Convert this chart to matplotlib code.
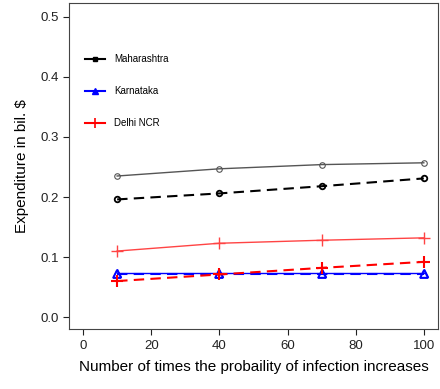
import numpy as np
import matplotlib.pyplot as plt
from matplotlib.lines import Line2D

plt.rcParams['font.family'] = ['Liberation Sans', 'DejaVu Sans']

x = [10, 40, 70, 100]
maha_solid = [0.235, 0.247, 0.254, 0.257]
maha_dash = [0.196, 0.206, 0.218, 0.231]
karn_solid = [0.073, 0.073, 0.073, 0.073]
karn_dash = [0.072, 0.072, 0.072, 0.072]
delhi_solid = [0.110, 0.123, 0.128, 0.132]
delhi_dash = [0.060, 0.071, 0.082, 0.092]

legend_labels = ["Maharashtra", "Karnataka", "Delhi NCR"]


def main():
    fig = plt.figure(figsize=(4.4, 3.89), dpi=100)
    ax = fig.add_axes([0.157, 0.154, 0.838, 0.838])

    ax.plot(x, maha_solid, color="#555555", lw=1.0, marker="o", ms=4,
            mfc="none", mec="#555555", mew=0.8)
    ax.plot(x, maha_dash, color="black", lw=1.5, ls=(0, (5, 3)), marker="o",
            ms=4, mfc="none", mec="black", mew=1.3)
    ax.plot(x, karn_solid, color="blue", lw=1.0, marker="^", ms=6,
            mfc="none", mec="blue", mew=1.0)
    ax.plot(x, karn_dash, color="blue", lw=1.5, ls=(0, (5, 3)), marker="^",
            ms=6, mfc="none", mec="blue", mew=1.3)
    ax.plot(x, delhi_solid, color="#ff4444", lw=1.0, marker="+", ms=9,
            mew=1.0)
    ax.plot(x, delhi_dash, color="red", lw=1.5, ls=(0, (5, 3)), marker="+",
            ms=9, mew=1.5)

    ax.set_xlim(-4.1, 104.1)
    ax.set_ylim(-0.02, 0.523)
    ax.set_xticks([0, 20, 40, 60, 80, 100])
    ax.set_yticks([0.0, 0.1, 0.2, 0.3, 0.4, 0.5])
    ax.set_yticklabels(["0.0", "0.1", "0.2", "0.3", "0.4", "0.5"])
    ax.tick_params(labelsize=9.5, colors="#222222", length=4)
    for s in ax.spines.values():
        s.set_color("#444444")

    ax.set_xlabel("Number of times the probaility of infection increases",
                  fontsize=11, labelpad=6)
    ax.set_ylabel("Expenditure in bil. $", fontsize=11, labelpad=8)

    handles = [
        Line2D([], [], color="black", lw=1.5, marker="s", ms=3),
        Line2D([], [], color="blue", lw=1.5, marker="^", ms=4),
        Line2D([], [], color="red", lw=1.5, marker="+", ms=7, mew=1.2),
    ]
    ax.legend(handles, legend_labels, loc="upper left",
              bbox_to_anchor=(0.02, 0.87), frameon=False, fontsize=7,
              handlelength=2.0, labelspacing=2.25, handletextpad=1.0)

    fig.savefig("out.png", dpi=100)


if __name__ == "__main__":
    main()
